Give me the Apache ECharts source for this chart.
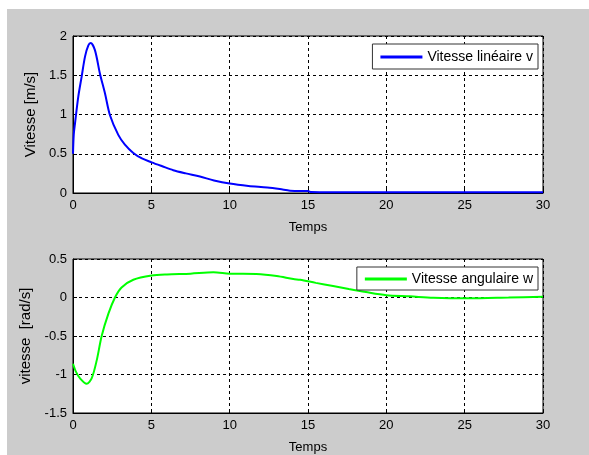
<!DOCTYPE html>
<html><head><meta charset="utf-8">
<script src="https://cdn.jsdelivr.net/npm/echarts@6/dist/echarts.min.js"></script>
<style>html,body{margin:0;padding:0;background:#fff}#c{width:589px;height:455px}</style>
</head><body><div id="c"></div>
<script>
// Top plot: linear speed v(t)
const timeV = [0, 0.05, 0.13, 0.34, 0.55, 0.77, 0.98, 1.13, 1.4, 1.72, 2.04, 2.36, 2.89, 3.3, 3.85, 4.4, 5.02, 5.7, 6.4, 7.2, 8.1, 9.0, 10.0, 11.2, 12.4, 13.2, 13.85, 14.5, 15.0, 15.2, 16, 18, 20, 22, 25, 28, 30];
const valV  = [0.5, 0.75, 0.89, 1.23, 1.48, 1.74, 1.88, 1.91, 1.82, 1.52, 1.27, 0.99, 0.74, 0.62, 0.51, 0.44, 0.39, 0.34, 0.29, 0.25, 0.21, 0.16, 0.12, 0.09, 0.07, 0.05, 0.03, 0.025, 0.025, 0.012, 0.01, 0.01, 0.01, 0.01, 0.01, 0.01, 0.01];
// Bottom plot: angular speed w(t)
const timeW = [0, 0.2, 0.45, 0.87, 1.19, 1.51, 1.83, 2.26, 2.68, 3.1, 3.85, 5.02, 6.0, 7.5, 8.96, 10.0, 11.7, 13.0, 14.06, 14.5, 15.5, 16.6, 17.6, 18.7, 20.0, 21.5, 23.0, 25.2, 27.8, 30];
const valW  = [-0.86, -0.97, -1.05, -1.12, -1.05, -0.82, -0.5, -0.21, 0.0, 0.13, 0.23, 0.285, 0.3, 0.31, 0.327, 0.31, 0.306, 0.28, 0.24, 0.23, 0.19, 0.15, 0.11, 0.07, 0.03, 0.015, -0.003, -0.01, 0.0, 0.01];
const xTicks = [0, 5, 10, 15, 20, 25, 30];
const yTicksV = [0, 0.5, 1, 1.5, 2];
const yTicksW = [-1.5, -1, -0.5, 0, 0.5];
const seriesNames = ['Vitesse linéaire v', 'Vitesse angulaire w'];

const FONT = 'Liberation Sans, Arial, sans-serif';
const txt = {color:'#000', fontFamily: FONT, fontSize: 13};
const ytxt = {color:'#000', fontFamily: FONT, fontSize: 15};
const ltxt = {color:'#000', fontFamily: FONT, fontSize: 14};
function xAxis(gi){
  return {type:'value', gridIndex:gi, min:xTicks[0], max:xTicks[xTicks.length-1], interval:5,
    name:'Temps', nameLocation:'middle', nameGap:28, nameTextStyle:txt,
    axisLine:{show:true, onZero:false, lineStyle:{color:'#000'}}, axisTick:{show:true, inside:true, length:4, lineStyle:{color:'#000'}},
    axisLabel:Object.assign({margin:6}, txt),
    splitLine:{show:true, lineStyle:{color:'#000', type:[3,3], width:1}}};
}
function yAxis(gi, ticks, name){
  return {type:'value', gridIndex:gi, min:ticks[0], max:ticks[ticks.length-1], interval:0.5,
    name:name, nameLocation:'middle', nameGap:33, nameRotate:90, nameTextStyle:ytxt,
    axisLine:{show:true, onZero:false, lineStyle:{color:'#000'}}, axisTick:{show:true, inside:true, length:4, lineStyle:{color:'#000'}},
    axisLabel:Object.assign({margin:6}, txt),
    splitLine:{show:true, lineStyle:{color:'#000', type:[3,3], width:1}}};
}
const chart = echarts.init(document.getElementById('c'), null, {renderer:'canvas'});
chart.setOption({
  animation:false,
  backgroundColor:'#fff',
  graphic:[{type:'rect', left:7, top:9, shape:{width:582, height:446}, style:{fill:'#cccccc'}, z:-10, silent:true}],
  grid:[
    {left:73, top:36, width:470, height:157, show:true, backgroundColor:'#fff', borderColor:'#000', borderWidth:1},
    {left:73, top:259, width:470, height:158, show:true, backgroundColor:'#fff', borderColor:'#000', borderWidth:1}
  ],
  xAxis:[xAxis(0), xAxis(1)],
  yAxis:[yAxis(0, yTicksV, 'Vitesse [m/s]'), yAxis(1, yTicksW, 'vitesse  [rad/s]')],
  legend:[
    {data:[seriesNames[0]], right:51, top:44, orient:'vertical', backgroundColor:'#fff', borderColor:'#333', borderWidth:1,
     padding:[6,5,5,8], icon:'rect', itemWidth:42, itemHeight:3, itemGap:0, textStyle:ltxt},
    {data:[seriesNames[1]], right:51, top:267, orient:'vertical', backgroundColor:'#fff', borderColor:'#333', borderWidth:1,
     padding:[5,5,4,8], icon:'rect', itemWidth:42, itemHeight:3, itemGap:0, textStyle:ltxt}
  ],
  series:[
    {name:seriesNames[0], type:'line', xAxisIndex:0, yAxisIndex:0, symbol:'none', smooth:0.3,
     lineStyle:{color:'#0000ff', width:2}, itemStyle:{color:'#0000ff'},
     data: timeV.map((t,i)=>[t, valV[i]])},
    {name:seriesNames[1], type:'line', xAxisIndex:1, yAxisIndex:1, symbol:'none', smooth:0.3,
     lineStyle:{color:'#00ff00', width:2}, itemStyle:{color:'#00ff00'},
     data: timeW.map((t,i)=>[t, valW[i]])}
  ]
});
</script></body></html>
